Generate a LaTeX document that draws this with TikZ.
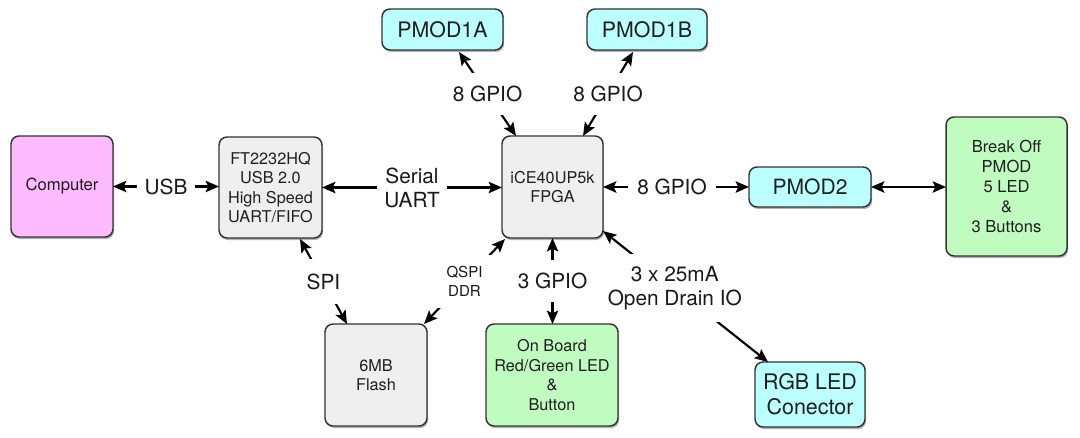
\documentclass[tikz,border=0pt]{standalone}
\usepackage{fontspec}
\setmainfont{TeX Gyre Heros}
\usetikzlibrary{arrows.meta,shadows,calc}
\definecolor{pinkbox}{HTML}{FFBBFF}
\definecolor{graybox}{HTML}{EFEFEF}
\definecolor{cyanbox}{HTML}{BBFFFF}
\definecolor{greenbox}{HTML}{C0FCC0}
\definecolor{edgec}{HTML}{333333}
\begin{document}
\begin{tikzpicture}[x=0.75pt,y=-0.75pt,
  blk/.style={draw=edgec, line width=1.1pt, rounded corners=6pt, align=center,
    inner sep=0pt, outer sep=0pt, text=black!88,
    font=\fontsize{12.2}{14.6}\selectfont,
    drop shadow={shadow xshift=0.8pt, shadow yshift=-1.5pt, opacity=0.3, fill=black}},
  conn/.style={line width=1.6pt,
    {Stealth[length=10pt,width=8.5pt,inset=2pt]}-{Stealth[length=10pt,width=8.5pt,inset=2pt]}},
  lbl/.style={fill=white, align=center, text=black!90,
    font=\fontsize{15.6}{18}\selectfont},
  smalllbl/.style={fill=white, align=center, text=black!90,
    font=\fontsize{11.3}{14.25}\selectfont}
]
\useasboundingbox (0,0) rectangle (1080,438);
\fill[white] (0,0) rectangle (1080,438);

% boxes
\node[blk, fill=pinkbox, minimum width=76.5pt, minimum height=75.75pt,
  font=\fontsize{12.5}{15}\selectfont] (comp) at (62,186.5) {Computer};
\node[blk, fill=graybox, minimum width=77.25pt, minimum height=75.75pt] (ft) at (270.5,187.5)
  {FT2232HQ\\USB 2.0\\High Speed\\UART/FIFO};
\node[blk, fill=graybox, minimum width=75.75pt, minimum height=76.5pt] (fpga) at (552.5,187)
  {iCE40UP5k\\FPGA};
\node[blk, fill=cyanbox, minimum width=91.5pt, minimum height=30pt,
  font=\fontsize{15.8}{18}\selectfont] (pmod2) at (810,187) {PMOD2};
\node[blk, fill=greenbox, minimum width=90.75pt, minimum height=104.25pt,
  font=\fontsize{12.4}{14.85}\selectfont] (brk) at (1006.5,186.5)
  {Break Off\\PMOD\\5 LED\\\&\\3 Buttons};
\node[blk, fill=cyanbox, minimum width=90.75pt, minimum height=30.75pt,
  font=\fontsize{16}{18}\selectfont] (pa) at (442.5,29.5) {PMOD1A};
\node[blk, fill=cyanbox, minimum width=90pt, minimum height=30.75pt,
  font=\fontsize{16}{18}\selectfont] (pb) at (647,29.5) {PMOD1B};
\node[blk, fill=graybox, minimum width=76.5pt, minimum height=76.5pt] (flash) at (376,375)
  {6MB\\Flash};
\node[blk, fill=greenbox, minimum width=99pt, minimum height=76.5pt] (led) at (552,375)
  {On Board\\Red/Green LED\\\&\\Button};
\node[blk, fill=cyanbox, minimum width=82.5pt, minimum height=48.75pt,
  font=\fontsize{16.1}{18.75}\selectfont] (rgb) at (810,394.5) {RGB LED\\Conector};

% connectors
\draw[conn] (comp.east) -- node[lbl, inner xsep=6pt]{USB} (comp.east -| ft.west);
\draw[conn] (ft.east) -- node[lbl, inner xsep=5.5pt]{Serial\\UART} (ft.east -| fpga.west);
\draw[conn] (fpga.east) -- node[lbl, inner xsep=7pt, xshift=-3pt]{8 GPIO} (fpga.east -| pmod2.west);
\draw[conn] (pmod2.east) -- (pmod2.east -| brk.west);

\draw[conn] ($(pa.south)+(16.5,2)$) --
  node[lbl, inner xsep=3pt, inner ysep=9.5pt]{8 GPIO} ($(fpga.north west)+(14,0)$);
\draw[conn] ($(pb.south)+(-14,2)$) --
  node[lbl, inner xsep=3pt, inner ysep=9.5pt]{8 GPIO} ($(fpga.north east)+(-20,0)$);
\draw[conn] ($(ft.south)+(29.5,1)$) --
  node[lbl, inner xsep=2pt, inner ysep=11pt]{SPI} ($(flash.north west)+(22,0)$);
\draw[conn] ($(fpga.south west)+(3,1)$) --
  node[smalllbl, inner xsep=6.5pt, inner ysep=8.5pt]{QSPI\\DDR} ($(flash.north east)+(-3,0)$);
\draw[conn] (fpga.south) --
  node[lbl, inner xsep=2pt, inner ysep=10pt]{3 GPIO} (fpga.south |- led.north);
\draw[conn] ($(fpga.south east)+(0,-7)$) --
  node[lbl, pos=0.435, inner xsep=2pt, inner ysep=9pt]{3 x 25mA\\Open Drain IO}
  ($(rgb.north west)+(13,0)$);
\end{tikzpicture}
\end{document}
